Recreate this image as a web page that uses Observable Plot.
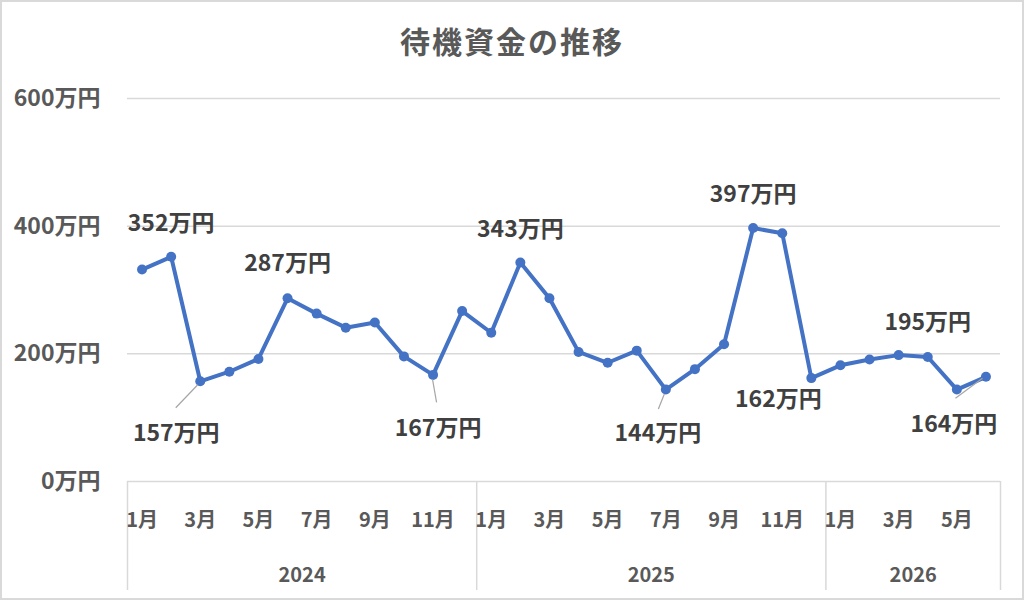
<!DOCTYPE html>
<html>
<head>
<meta charset="utf-8">
<script src="https://cdn.jsdelivr.net/npm/d3@7"></script>
<script src="https://cdn.jsdelivr.net/npm/@observablehq/plot@0.6"></script>
<style>
  html, body { margin: 0; padding: 0; background: #fff; }
  #chart { position: relative; width: 1024px; height: 600px; font-family: "Noto Sans CJK JP", "Noto Sans", sans-serif; }
  #title { position: absolute; top: 18px; left: 0; width: 1024px; text-align: center; font-size: 30px; letter-spacing: 2px; color: #595959; font-weight: bold; }
  #border { position: absolute; left: 0; top: 0; width: 1020px; height: 596px; border: 2px solid #d9d9d9; pointer-events: none; }
</style>
</head>
<body>
<div id="chart"><div id="title">待機資金の推移</div><div id="border"></div></div>
<script>
// ---- data ----
const years = [2024, 2024, 2024, 2024, 2024, 2024, 2024, 2024, 2024, 2024, 2024, 2024,
               2025, 2025, 2025, 2025, 2025, 2025, 2025, 2025, 2025, 2025, 2025, 2025,
               2026, 2026, 2026, 2026, 2026, 2026];
const months = [1, 2, 3, 4, 5, 6, 7, 8, 9, 10, 11, 12,
                1, 2, 3, 4, 5, 6, 7, 8, 9, 10, 11, 12,
                1, 2, 3, 4, 5, 6];
const values = [332, 352, 157, 172, 192, 287, 263, 241, 249, 196, 167, 267,
                233, 343, 287, 203, 186, 205, 144, 176, 215, 397, 389, 162,
                182, 191, 198, 195, 144, 164];
const labeledIndex = [1, 2, 5, 10, 13, 18, 21, 23, 27, 29];
const yTicks = [0, 200, 400, 600];
const yearList = [2024, 2025, 2026];
const unit = "万円";

// ---- layout (pixel offsets of data labels and leader lines) ----
const labelOffset = {
  1: [0, -33], 2: [-24, 52], 5: [0, -35], 10: [5, 54], 13: [0, -33],
  18: [-8, 44], 21: [0, -33], 23: [-33, 22], 27: [0, -34], 29: [-32, 48]
};
const leaderOffset = {
  2: [-2, 4, -24, 27], 10: [0, 5, 4, 28], 18: [-1, 5, -7, 20], 29: [-3, 2, -30, 22]
};

const data = values.map((v, i) => ({i, v, year: years[i], month: months[i]}));
const labels = labeledIndex.map(i => ({i, v: values[i], dx: labelOffset[i][0], dy: labelOffset[i][1]}));

// month ticks (odd months), year group bounds and centers
const monthTicks = data.filter(d => d.month % 2 === 1).map(d => d.i);
const bounds = [-0.5];
const centers = [];
yearList.forEach(y => {
  const idx = data.filter(d => d.year === y).map(d => d.i);
  const lo = d3.min(idx) - 0.5, hi = d3.max(idx) + 0.5;
  bounds.push(hi);
  centers.push({pos: (lo + hi) / 2, year: y});
});

const font = "Noto Sans CJK JP";
const plot = Plot.plot({
  width: 1024,
  height: 600,
  marginLeft: 127,
  marginRight: 24,
  marginTop: 98,
  marginBottom: 119,
  style: {fontFamily: font, background: "transparent"},
  x: {type: "linear", domain: [-0.5, values.length - 0.5]},
  y: {domain: [0, 600]},
  marks: [
    Plot.gridY(yTicks, {stroke: "#d9d9d9", strokeOpacity: 1, strokeWidth: 1.5}),
    Plot.axisY(yTicks, {tickSize: 0, tickPadding: 27, fontSize: 23, fontWeight: "bold", color: "#595959",
      tickFormat: d => d + unit, label: null}),
    Plot.axisX(bounds, {tickSize: 109, tickFormat: () => "", stroke: "#d9d9d9", strokeWidth: 1.5, label: null}),
    Plot.axisX(monthTicks, {tickSize: 0, tickPadding: 31, fontSize: 20, fontWeight: "bold", color: "#595959",
      tickFormat: i => months[i] + "月", label: null}),
    Plot.axisX(centers.map(c => c.pos), {tickSize: 0, tickPadding: 86, fontSize: 20, fontWeight: "bold", color: "#595959",
      tickFormat: p => String(centers.find(c => c.pos === p).year), label: null}),
    Plot.line(data, {x: "i", y: "v", stroke: "#4472C4", strokeWidth: 4, strokeLinejoin: "round"}),
    Plot.dot(data, {x: "i", y: "v", r: 5, fill: "#4472C4", stroke: "none"}),
    Plot.text(labels, {x: "i", y: "v", text: d => d.v + unit, dx: 0, dy: 0,
      fontSize: 23, fontWeight: "bold", fill: "#404040", textAnchor: "middle", lineAnchor: "middle"})
  ]
});

// apply per-label pixel offsets
const textGroups = plot.querySelectorAll("g[aria-label='text'] text");
textGroups.forEach((t, k) => {
  const l = labels[k];
  const tr = t.getAttribute("transform");
  t.setAttribute("transform", (tr || "") + ` translate(${l.dx},${l.dy})`);
});

// leader lines through the plot's scales
const sx = plot.scale("x"), sy = plot.scale("y");
const svg = d3.select(plot);
const leaderG = svg.append("g").attr("stroke", "#a6a6a6").attr("stroke-width", 1.2);
Object.keys(leaderOffset).forEach(k => {
  const i = +k;
  const px = sx.apply(i), py = sy.apply(values[i]);
  const o = leaderOffset[i];
  leaderG.append("line")
    .attr("x1", px + o[0]).attr("y1", py + o[1])
    .attr("x2", px + o[2]).attr("y2", py + o[3]);
});

document.getElementById("chart").insertBefore(plot, document.getElementById("border"));
plot.style.position = "absolute";
plot.style.left = "0px";
plot.style.top = "0px";
</script>
</body>
</html>
